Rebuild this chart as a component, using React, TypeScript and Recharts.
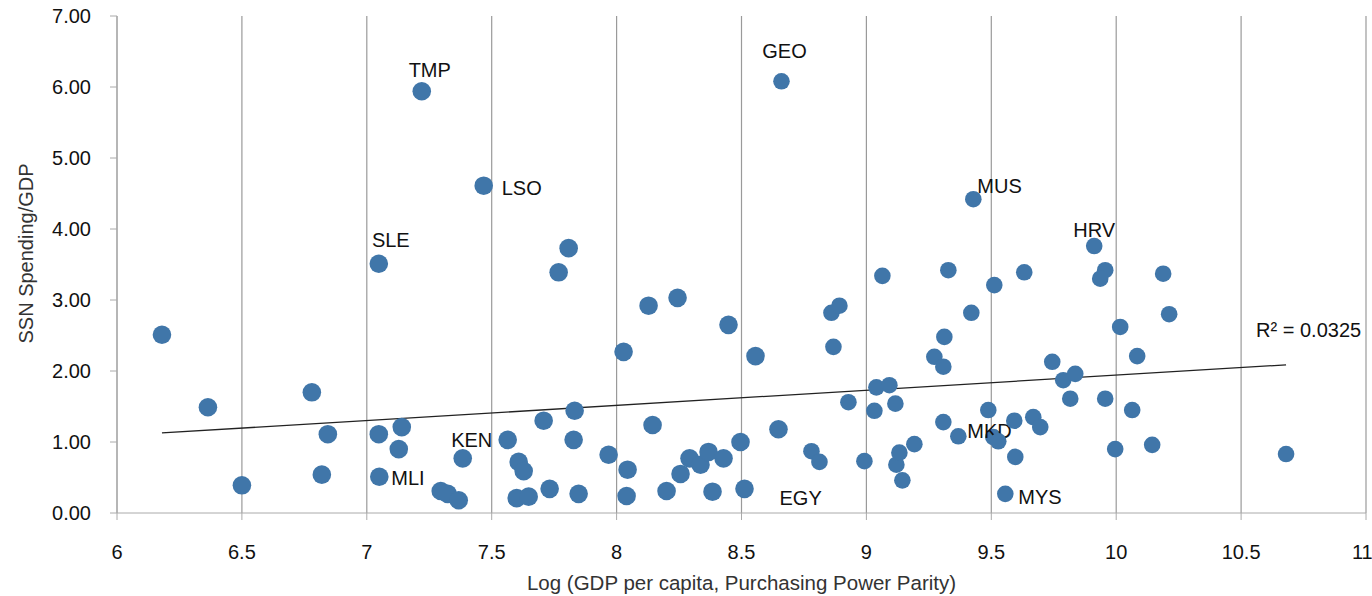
import React from 'react';
import {
  ScatterChart,
  Scatter,
  XAxis,
  YAxis,
  CartesianGrid,
  ReferenceLine,
  ReferenceDot,
  Label,
} from 'recharts';

// [log GDP per capita PPP, SSN spending / GDP, country code?]
type Pt = [number, number, string?];

// lower income group (slightly larger markers)
const lowerGroup: Pt[] = [
  [6.18, 2.51], [6.364, 1.49], [6.5, 0.39], [6.78, 1.7], [6.82, 0.54], [6.844, 1.11],
  [7.048, 1.11], [7.048, 3.51, 'SLE'], [7.05, 0.51, 'MLI'], [7.128, 0.9], [7.14, 1.21],
  [7.22, 5.94, 'TMP'], [7.296, 0.31], [7.324, 0.27], [7.368, 0.18], [7.384, 0.77, 'KEN'],
  [7.468, 4.61, 'LSO'], [7.564, 1.03], [7.608, 0.72], [7.628, 0.59], [7.6, 0.21],
  [7.648, 0.23], [7.708, 1.3], [7.732, 0.34], [7.768, 3.39], [7.808, 3.73], [7.832, 1.44],
  [7.828, 1.03], [7.848, 0.27], [7.968, 0.82], [8.028, 2.27], [8.044, 0.61], [8.04, 0.24],
  [8.128, 2.92], [8.144, 1.24], [8.2, 0.31], [8.244, 3.03], [8.256, 0.55], [8.292, 0.77],
  [8.336, 0.68], [8.368, 0.86], [8.384, 0.3], [8.428, 0.77], [8.448, 2.65], [8.496, 1.0],
  [8.512, 0.34, 'EGY'], [8.556, 2.21], [8.648, 1.18],
];

// middle income group
const upperGroup: Pt[] = [
  [8.66, 6.08, 'GEO'], [8.78, 0.87], [8.812, 0.72], [8.86, 2.82], [8.892, 2.92], [8.868, 2.34],
  [8.928, 1.56], [8.992, 0.73], [9.032, 1.44], [9.04, 1.77], [9.064, 3.34], [9.092, 1.8],
  [9.116, 1.54], [9.12, 0.68], [9.132, 0.85], [9.144, 0.46], [9.192, 0.97], [9.272, 2.2],
  [9.308, 2.06], [9.312, 2.48], [9.308, 1.28], [9.328, 3.42], [9.368, 1.08], [9.42, 2.82],
  [9.428, 4.42, 'MUS'], [9.488, 1.45], [9.508, 1.07, 'MKD'], [9.528, 1.01], [9.512, 3.21],
  [9.556, 0.27, 'MYS'], [9.592, 1.3], [9.596, 0.79], [9.632, 3.39], [9.668, 1.35],
  [9.696, 1.21], [9.744, 2.13], [9.788, 1.87], [9.836, 1.96], [9.816, 1.61],
  [9.912, 3.76, 'HRV'], [9.956, 3.42], [9.936, 3.3], [9.956, 1.61], [9.996, 0.9],
  [10.016, 2.62], [10.084, 2.21], [10.064, 1.45], [10.144, 0.96], [10.188, 3.37],
  [10.212, 2.8], [10.68, 0.83],
];

const xTicks = [6, 6.5, 7, 7.5, 8, 8.5, 9, 9.5, 10, 10.5, 11];
const yTicks = [0, 1, 2, 3, 4, 5, 6, 7];

// linear trend (Excel)
const trendSlope = 0.2133;
const trendIntercept = -0.191;
const rSquared = '0.0325';

// where each country code sits relative to its marker
const labelStyle: Record<string, { dx: number; dy: number; anchor: 'start' | 'middle' }> = {
  TMP: { dx: 8, dy: -14, anchor: 'middle' },
  GEO: { dx: 3, dy: -23, anchor: 'middle' },
  LSO: { dx: 18, dy: 9, anchor: 'start' },
  SLE: { dx: 12, dy: -17, anchor: 'middle' },
  MUS: { dx: 4, dy: -6, anchor: 'start' },
  HRV: { dx: 0, dy: -9, anchor: 'middle' },
  KEN: { dx: 9, dy: -11, anchor: 'middle' },
  MLI: { dx: 12, dy: 8, anchor: 'start' },
  MKD: { dx: -26, dy: 1, anchor: 'start' },
  EGY: { dx: 35, dy: 16, anchor: 'start' },
  MYS: { dx: 13, dy: 10, anchor: 'start' },
};

const FONT = '"Liberation Sans", Arial, Helvetica, sans-serif';
const DOT = '#4076a9';

const toRows = (pts: Pt[]) => pts.map(([x, y, code]) => ({ x, y, code }));

const makeShape = (r: number) => (props: any) => {
  const { cx, cy, payload } = props;
  const code = payload?.code;
  const ls = code ? labelStyle[code] : undefined;
  return (
    <g>
      <circle cx={cx} cy={cy} r={r} fill={DOT} />
      {code && ls && (
        <text
          x={cx + ls.dx}
          y={cy + ls.dy}
          textAnchor={ls.anchor}
          fontSize={20}
          fontFamily={FONT}
          fill="#111"
        >
          {code}
        </text>
      )}
    </g>
  );
};

const allX = [...lowerGroup, ...upperGroup].map((p) => p[0]);
const xMin = Math.min(...allX);
const xMax = Math.max(...allX);

export default function App() {
  return (
    <div style={{ position: 'absolute', left: 0, top: 0, background: '#fff' }}>
      <ScatterChart
        width={1372}
        height={596}
        margin={{ top: 16, right: 6, bottom: 0, left: 0 }}
      >
        <CartesianGrid horizontal={false} stroke="#9a9a9a" strokeWidth={1.2} />
        <XAxis
          type="number"
          dataKey="x"
          domain={[6, 11]}
          ticks={xTicks}
          height={83}
          stroke="#aaa"
          tickSize={7}
          tickMargin={25}
          tick={{ fill: '#111', fontSize: 20, fontFamily: FONT }}
        >
          <Label
            value="Log (GDP per capita, Purchasing Power Parity)"
            position="insideBottom"
            offset={6}
            style={{ fill: '#333', fontSize: 20.5, fontFamily: FONT }}
          />
        </XAxis>
        <YAxis
          type="number"
          dataKey="y"
          domain={[0, 7]}
          ticks={yTicks}
          width={117}
          stroke="#aaa"
          tickSize={7}
          tickMargin={19}
          tickFormatter={(v: number) => v.toFixed(2)}
          tick={{ fill: '#111', fontSize: 20, fontFamily: FONT }}
        >
          <Label
            content={(props: any) => {
              const vb = props.viewBox || {};
              const cy = (vb.y ?? 16) + (vb.height ?? 497) / 2 - 11;
              return (
                <text
                  x={33}
                  y={cy}
                  transform={`rotate(-90, 33, ${cy})`}
                  textAnchor="middle"
                  fontSize={20}
                  fontFamily={FONT}
                  fill="#333"
                >
                  SSN Spending/GDP
                </text>
              );
            }}
          />
        </YAxis>
        <ReferenceLine
          segment={[
            { x: xMin, y: trendSlope * xMin + trendIntercept },
            { x: xMax, y: trendSlope * xMax + trendIntercept },
          ]}
          stroke="#222"
          strokeWidth={1.3}
        />
        <Scatter
          data={toRows(lowerGroup)}
          shape={makeShape(9.3)}
          isAnimationActive={false}
        />
        <Scatter
          data={toRows(upperGroup)}
          shape={makeShape(8.3)}
          isAnimationActive={false}
        />
        <ReferenceDot
          x={10.56}
          y={2.48}
          r={0}
          shape={(p: any) => (
            <text x={p.cx} y={p.cy} fontSize={20} fontFamily={FONT} fill="#111">
              R² = {rSquared}
            </text>
          )}
        />
      </ScatterChart>
    </div>
  );
}
